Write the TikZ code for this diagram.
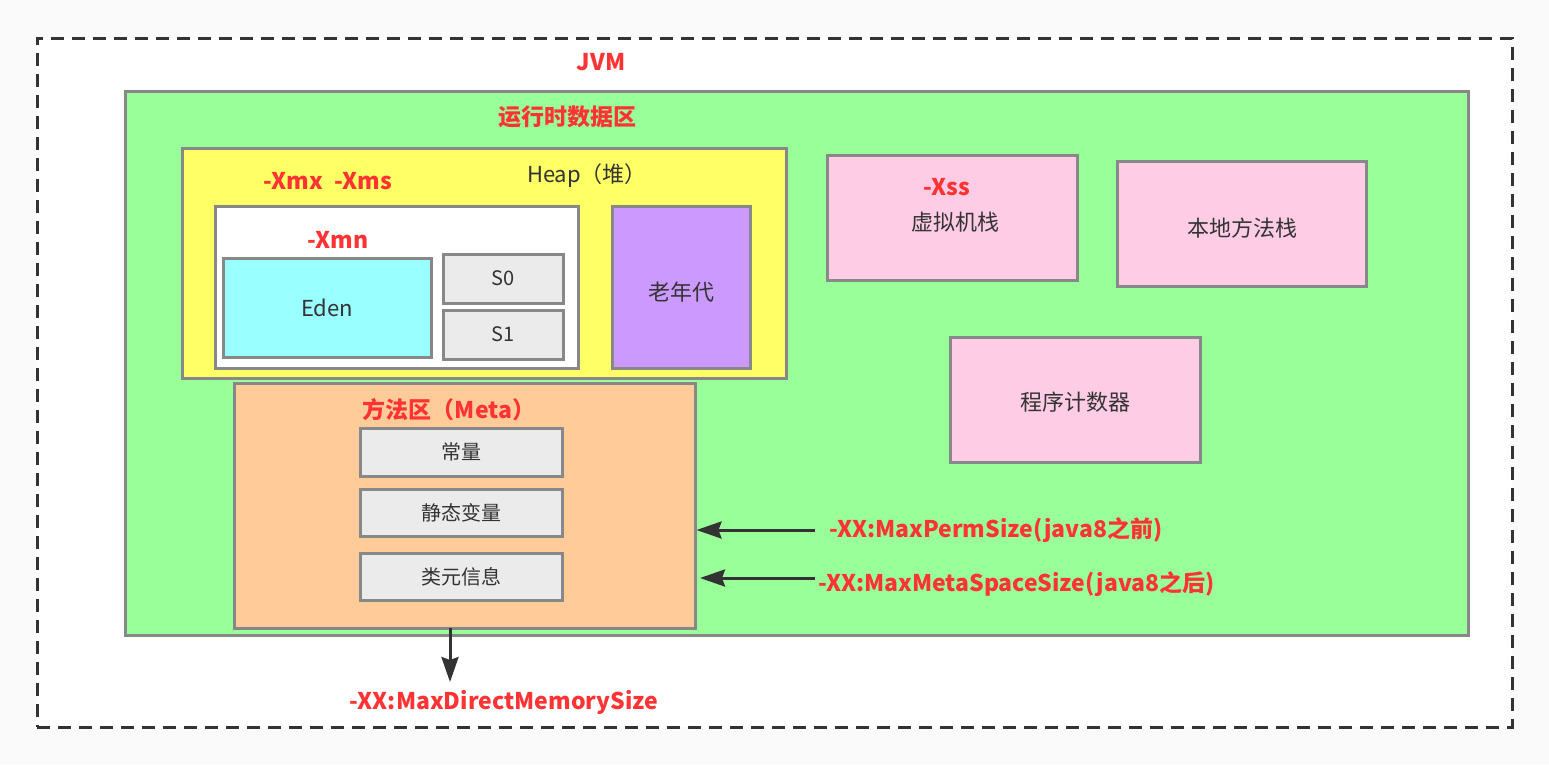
\documentclass[tikz,border=0pt]{standalone}
\usepackage{fontspec}
\setmainfont{Noto Sans CJK SC}
\usetikzlibrary{arrows.meta}
\definecolor{bgout}{HTML}{FAFAFA}
\definecolor{bordergray}{HTML}{888888}
\definecolor{framedark}{HTML}{333333}
\definecolor{txtdark}{HTML}{333333}
\definecolor{redlbl}{HTML}{FF3333}
\definecolor{greenfill}{HTML}{99FF99}
\definecolor{yellowfill}{HTML}{FFFF66}
\definecolor{cyanfill}{HTML}{99FFFF}
\definecolor{greyfill}{HTML}{EBEBEB}
\definecolor{purplefill}{HTML}{CC99FF}
\definecolor{orangefill}{HTML}{FFCC99}
\definecolor{pinkfill}{HTML}{FFCCE6}
\begin{document}
\begin{tikzpicture}[x=1pt,y=-1pt,
  box/.style={draw=bordergray, line width=3pt, inner sep=0pt, text=txtdark, font=\fontsize{22}{26}\selectfont},
  smallbox/.style={box, font=\fontsize{20}{24}\selectfont},
  frame/.style={draw=framedark, line width=3pt, dash pattern=on 13pt off 8pt, fill=white, inner sep=0pt},
  redtxt/.style={text=redlbl, font=\fontsize{23}{27}\selectfont\bfseries, inner sep=0pt},
  plaintxt/.style={text=txtdark, font=\fontsize{22}{26}\selectfont, inner sep=0pt},
  arr/.style={draw=framedark, line width=3pt, -{Stealth[length=25pt,width=17pt,inset=3pt]}}
]
\useasboundingbox (0,0) rectangle (1549,764);
\fill[bgout] (0,0) rectangle (1549,764);
% outer JVM frame
\node[frame, minimum width=1475pt, minimum height=689pt] (jvm) at (774.5,382.5) {};
\node[redtxt] (jvmlbl) at (601,62) {JVM};
% runtime data area
\node[box, fill=greenfill, minimum width=1343pt, minimum height=544pt] (rt) at (796.5,363) {};
\node[redtxt] (rtlbl) at (567,117) {运行时数据区};
% heap
\node[box, fill=yellowfill, minimum width=604pt, minimum height=230pt] (heap) at (484,263) {};
\node[redtxt] (xmx) at (328,181) {-Xmx\hspace{12pt}-Xms};
\node[plaintxt] (heaplbl) at (587,176) {Heap（堆）};
\node[box, fill=white, minimum width=363pt, minimum height=162pt] (young) at (396.5,287) {};
\node[redtxt] (xmn) at (338,240) {-Xmn};
\node[box, fill=cyanfill, minimum width=208pt, minimum height=99pt] (eden) at (327,307.5) {Eden};
\node[smallbox, fill=greyfill, minimum width=120pt, minimum height=49pt] (s0) at (503,278.5) {S0};
\node[smallbox, fill=greyfill, minimum width=120pt, minimum height=49pt] (s1) at (503,334.5) {S1};
\node[box, fill=purplefill, minimum width=138pt, minimum height=162pt] (old) at (681,287) {};
\node[plaintxt] (oldlbl) at (681,292) {老年代};
% method area
\node[box, fill=orangefill, minimum width=461pt, minimum height=245pt] (meta) at (464.5,505.5) {};
\node[redtxt] (metalbl) at (449,410) {方法区（Meta）};
\node[smallbox, fill=greyfill, minimum width=202pt, minimum height=48pt] (const) at (461,452) {常量};
\node[smallbox, fill=greyfill, minimum width=202pt, minimum height=47pt] (static) at (461,512.5) {静态变量};
\node[smallbox, fill=greyfill, minimum width=202pt, minimum height=47pt] (classinfo) at (461,576.5) {类元信息};
% stacks
\node[box, fill=pinkfill, minimum width=250pt, minimum height=125pt] (vmstack) at (952,217.5) {};
\node[redtxt] (xss) at (947,187) {-Xss};
\node[plaintxt] (vmstacklbl) at (955,222) {虚拟机栈};
\node[box, fill=pinkfill, minimum width=249pt, minimum height=125pt] (nstack) at (1241.5,223.5) {};
\node[plaintxt] (nstacklbl) at (1242,228) {本地方法栈};
\node[box, fill=pinkfill, minimum width=250pt, minimum height=125pt] (pc) at (1075,399.5) {};
\node[plaintxt] (pclbl) at (1075,402) {程序计数器};
% parameter labels and arrows
\node[redtxt, anchor=west] (perm) at (829,530) {-XX:MaxPermSize(java8之前)};
\node[redtxt, anchor=west] (metasp) at (818,584) {-XX:MaxMetaSpaceSize(java8之后)};
\node[redtxt] (direct) at (504,702) {-XX:MaxDirectMemorySize};
\coordinate (a1) at (815,530);
\coordinate (a2) at (815,578);
\coordinate (a2t) at (700,578);
\coordinate (a3s) at (450,628);
\coordinate (a3t) at (450,682);
\draw[arr] (a1) -- (meta.east |- a1);
\draw[arr] (a2) -- (a2t);
\draw[arr] (a3s) -- (a3t);
\end{tikzpicture}
\end{document}
